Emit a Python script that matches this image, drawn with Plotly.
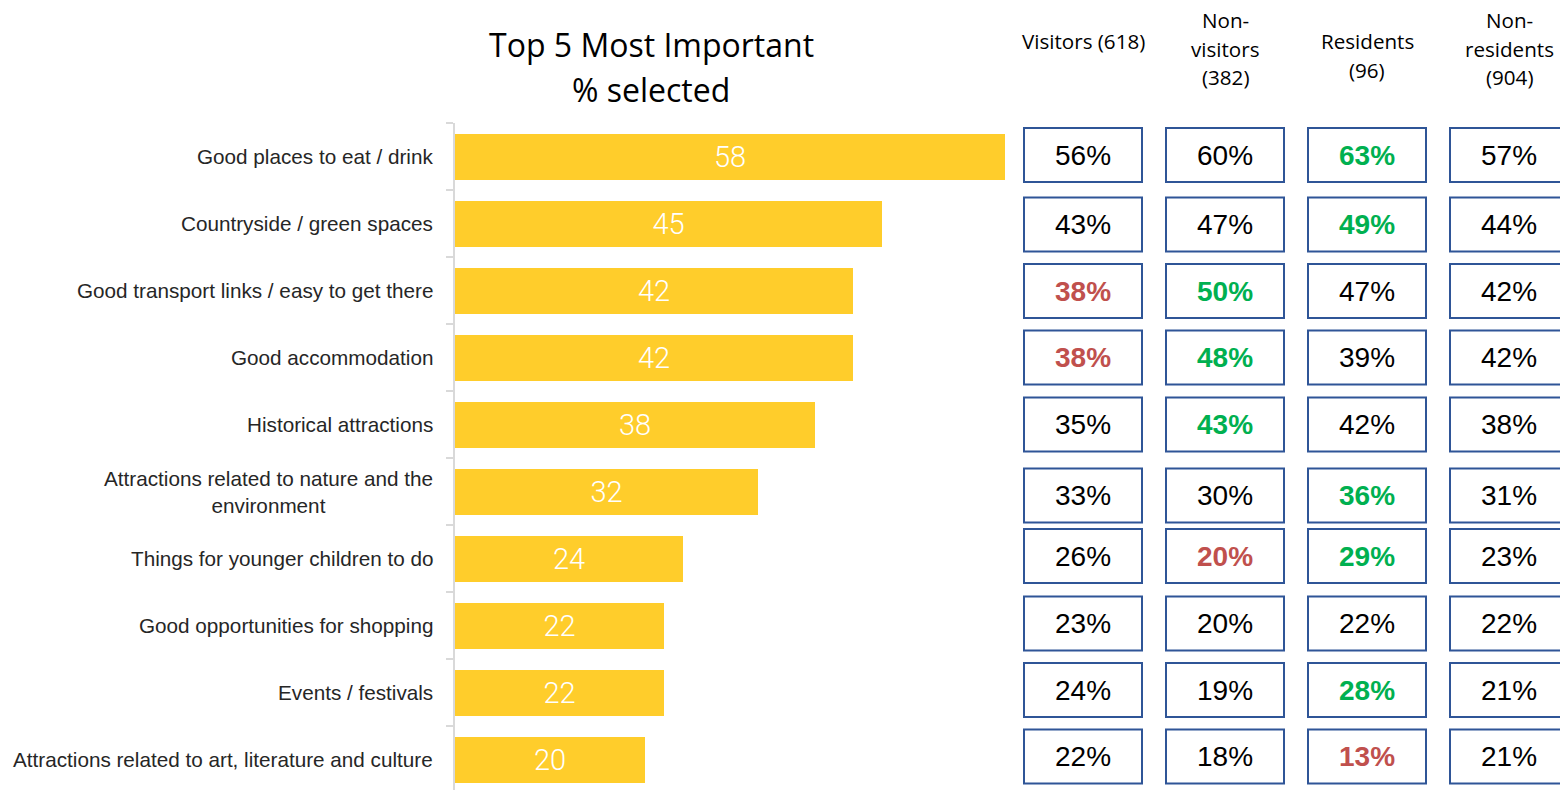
import plotly.graph_objects as go

# ---- data -------------------------------------------------------------
categories = [
    "Good places to eat / drink",
    "Countryside / green spaces",
    "Good transport links / easy to get there",
    "Good accommodation",
    "Historical attractions",
    "Attractions related to nature and the<br>environment",
    "Things for younger children to do",
    "Good opportunities for shopping",
    "Events / festivals",
    "Attractions related to art, literature and culture",
]
overall = [58, 45, 42, 42, 38, 32, 24, 22, 22, 20]

segment_headers = ["Visitors (618)", "Non-<br>visitors<br>(382)", "Residents<br>(96)", "Non-<br>residents<br>(904)"]
visitors = [56, 43, 38, 38, 35, 33, 26, 23, 24, 22]
non_visitors = [60, 47, 50, 48, 43, 30, 20, 20, 19, 18]
residents = [63, 49, 47, 39, 42, 36, 29, 22, 28, 13]
non_residents = [57, 44, 42, 42, 38, 31, 23, 22, 21, 21]

# significance flags per segment: +1 higher, -1 lower, 0 none
visitors_sig = [0, 0, -1, -1, 0, 0, 0, 0, 0, 0]
non_visitors_sig = [0, 0, 1, 1, 1, 0, -1, 0, 0, 0]
residents_sig = [1, 1, 0, 0, 0, 1, 1, 0, 1, -1]
non_residents_sig = [0, 0, 0, 0, 0, 0, 0, 0, 0, 0]

title_lines = ["Top 5 Most Important", "% selected"]

# ---- layout constants (pixels) -----------------------------------------
W, H = 1560, 790
L, T = 455, 123
PW, PH = W - L, H - T
ROW = 67                      # pixel height of one category band
BAR_PX_PER_UNIT = 550 / 58

BAR_COLOR = "#FFCD2B"
BOX_LINE = "#2F5597"
GREEN = "#00B050"
RED = "#C0504D"

def px_x(p):
    return (p - L) / PW

def px_y(p):
    return 1 - (p - T) / PH

fig = go.Figure()

fig.add_trace(go.Bar(
    y=list(range(len(categories))),
    x=overall,
    orientation="h",
    marker=dict(color=BAR_COLOR, line=dict(width=0)),
    width=46 / ROW,
    text=[str(v) for v in overall],
    textposition="inside",
    insidetextanchor="middle",
    textangle=0,
    constraintext="none",
    textfont=dict(family="Roboto, Liberation Sans, sans-serif", size=29, color="white", weight=300),
    hoverinfo="skip",
))

# category labels, right aligned against the axis, lines centred
for i, c in enumerate(categories):
    fig.add_annotation(
        x=px_x(435), xref="paper", xanchor="right",
        y=i, yref="y", yanchor="middle",
        text=c, showarrow=False, align="center",
        font=dict(family="Liberation Sans, Arial, sans-serif", size=20.7, color="#262626"),
    )

# title
for line, ypix in zip(title_lines, [45, 89]):
    fig.add_annotation(
        x=px_x(651), xref="paper", xanchor="center",
        y=px_y(ypix), yref="paper", yanchor="middle",
        text=line, showarrow=False,
        font=dict(family="Open Sans, sans-serif", size=32, color="black"),
    )

# segment comparison boxes
segments = [
    (visitors, visitors_sig),
    (non_visitors, non_visitors_sig),
    (residents, residents_sig),
    (non_residents, non_residents_sig),
]
col_left = [1024, 1166, 1308, 1450]
box_w = 118
box_h = 54
row_shift = [-1.5, 1, 0.5, 0, 0, 4, -2.5, -2, -2.5, -3]
header_top = [41, 20, 41, 20]

for (vals, sig), x0, htop, head in zip(segments, col_left, header_top, segment_headers):
    cx = x0 + box_w / 2
    for k, line in enumerate(head.split("<br>")):
        fig.add_annotation(
            x=px_x(cx), xref="paper", xanchor="center",
            y=px_y(htop + 28.5 * k), yref="paper", yanchor="middle",
            text=line, showarrow=False,
            font=dict(family="Open Sans, sans-serif", size=20.6, color="black"),
        )
    for i, (v, s) in enumerate(zip(vals, sig)):
        yc = i + row_shift[i] / ROW
        half = box_h / 2 / ROW
        fig.add_shape(
            type="rect", xref="paper", yref="y",
            x0=px_x(x0), x1=px_x(x0 + box_w),
            y0=yc - half, y1=yc + half,
            line=dict(color=BOX_LINE, width=2),
            fillcolor="white", layer="above",
        )
        color = GREEN if s > 0 else RED if s < 0 else "black"
        fig.add_annotation(
            x=px_x(cx), xref="paper", xanchor="center",
            y=yc, yref="y", yanchor="middle",
            text=f"<b>{v}%</b>" if s else f"{v}%",
            showarrow=False,
            font=dict(family="Liberation Sans, Arial, sans-serif", size=28, color=color),
        )

fig.update_layout(
    width=W, height=H,
    margin=dict(l=L, r=0, t=T, b=0, autoexpand=False),
    paper_bgcolor="white", plot_bgcolor="white",
    showlegend=False,
    bargap=0,
    xaxis=dict(range=[0, PW / BAR_PX_PER_UNIT], visible=False, fixedrange=True),
    yaxis=dict(
        range=[-0.5 + PH / ROW, -0.5],
        tickmode="array",
        tickvals=[i - 0.5 for i in range(len(categories) + 1)],
        ticktext=[""] * (len(categories) + 1),
        ticks="outside", ticklen=7, tickwidth=2, tickcolor="#D9D9D9",
        showline=True, linecolor="#D9D9D9", linewidth=2,
        showgrid=False, zeroline=False, showticklabels=False,
        fixedrange=True,
    ),
)

fig.write_html("out.html", config={"displayModeBar": False})
